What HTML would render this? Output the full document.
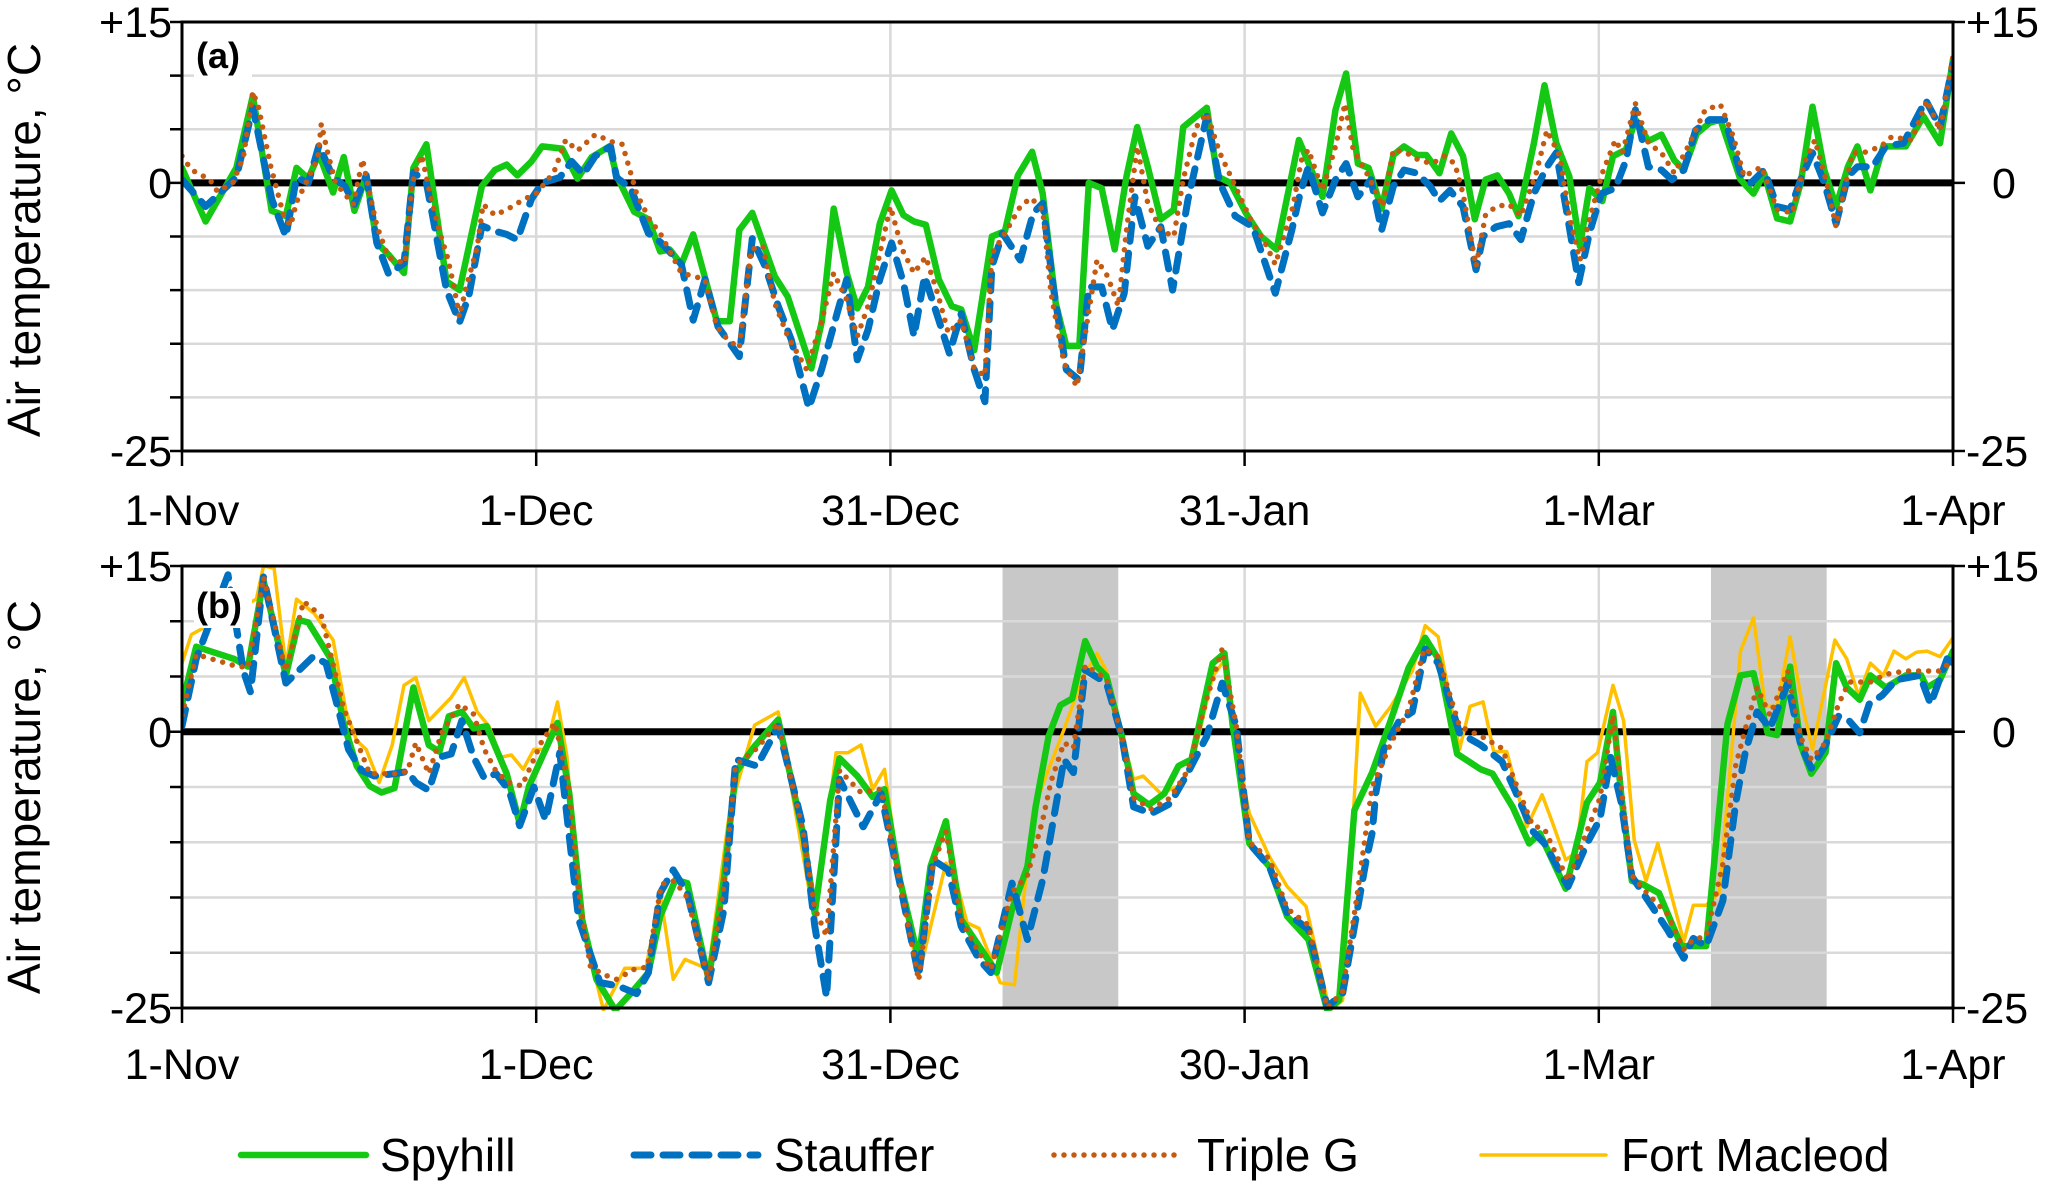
<!DOCTYPE html>
<html><head><meta charset="utf-8"><style>
html,body{margin:0;padding:0;background:#fff;}
svg{display:block;font-family:"Liberation Sans",Arial,sans-serif;}
</style></head><body>
<svg id="chart" width="2067" height="1184" viewBox="0 0 2067 1184" xmlns="http://www.w3.org/2000/svg">
<defs>
<clipPath id="clipTop"><rect x="182" y="20" width="1772" height="434"/></clipPath>
<clipPath id="clipBot"><rect x="182" y="564" width="1772" height="447"/></clipPath>
</defs>
<g id="top"></g>
<g id="bot"></g>
<g id="legend"></g>
</svg>
<script>
// ---- data ----
const xTickDays = [0,30,60,90,120,150];
const xTickLabelsTop = ["1-Nov","1-Dec","31-Dec","31-Jan","1-Mar","1-Apr"];
const xTickLabelsBot = ["1-Nov","1-Dec","31-Dec","30-Jan","1-Mar","1-Apr"];
const yTickValues = [15,10,5,0,-5,-10,-15,-20,-25];
const yLabelValues = [15,0,-25];
const yLabelTexts = ["+15","0","-25"];
const shadeStarts = [69.5,129.5];
const shadeEnds = [79.3,139.3];
const seriesNames = ["Spyhill","Stauffer","Triple G","Fort Macleod"];

const topSpyDays=[0,2,4.6,6,7.6,8.8,9.7,10.7,11.6,12.8,13.7,14.6,15.6,16.5,17.5,18.8,19.6,20.7,22.4,23.5,25.4,26.5,27.5,28.4,29.6,30.5,32.2,33.5,34.7,36.2,36.8,38.3,39.5,40.5,41.3,42.3,43.3,45.3,46.4,47.2,48.3,50.2,51.3,53.3,54.2,55.2,56.3,57.2,58.1,59.1,60.1,61.1,62,63,64.1,65.2,66,67.1,68.6,69.7,70.8,72,72.9,74,74.9,76,76.8,77.9,79,80,80.9,81.8,82.9,84,84.8,86.8,87.7,88.8,90.1,91.4,92.7,94.6,96.6,97.7,98.6,99.6,100.5,101.6,102.6,103.5,104.6,105.4,106.5,107.5,108.5,109.5,110.4,111.4,112.4,113.2,114.5,115.4,116.4,117.5,118.4,119.2,120.3,121.2,122.3,123.1,124.2,125.3,126.4,127.2,128.3,129.4,130.3,132,133.1,134,135.1,136.2,137.1,138.1,139.1,140.1,141.1,141.9,143,144.1,146,147.5,148.9,150];
const topSpyTemps=[1.4,-3.6,1.4,8.1,-2.6,-3.1,1.4,0.4,2.7,-0.9,2.4,-2.6,0.7,-5.6,-6.7,-8.4,1.4,3.6,-9.2,-10,-0.3,1.2,1.7,0.7,2,3.4,3.2,0.4,2.4,3.4,0.7,-2.7,-3.4,-6.4,-6.2,-7.6,-4.8,-12.9,-12.9,-4.4,-2.8,-8.7,-10.6,-17.3,-12.9,-2.4,-8.4,-11.7,-9.7,-3.8,-0.7,-3,-3.6,-3.9,-9,-11.5,-11.8,-15.6,-5,-4.5,0.7,2.9,-1,-11.2,-15.2,-15.2,0,-0.5,-6.2,0.6,5.2,1.5,-3.4,-2.5,5.2,7,0.6,0,-2.8,-5,-6.2,4,-1.3,6.8,10.2,1.8,1.4,-2.4,2.6,3.4,2.6,2.6,0.9,4.6,2.5,-3.4,0.3,0.7,-1,-3.1,3.7,9.1,3.7,0.6,-5.9,-0.5,-1.7,2.5,3.1,5.9,3.9,4.5,2.1,1.2,4.6,5.6,5.9,0.3,-1,0.9,-3.3,-3.6,0,7.1,1.2,-2.2,1.5,3.4,-0.7,3.4,3.4,6.2,3.7,11.5];

const topStaDays=[0,2,4.6,6,7.6,8.8,9.7,10.7,11.6,12.8,13.8,14.6,15.6,16.5,17.5,18.8,19.6,20.7,22.4,23.5,24.3,25.4,26.5,27.5,28.4,29.6,30.5,32,33,34,35,36.3,36.8,38,39.5,40.5,42.3,43.3,44.3,45.4,47.2,48.3,49.4,50.5,51.6,53.1,54.2,55.5,56.3,57.2,58.1,59.1,60.1,61.1,62,62.9,64.1,65,66,67.1,68,68.6,69.5,71,72.1,72.9,73.8,74.9,76,76.8,77.9,78.8,79.8,80.7,81.8,82.9,83.9,85.2,86.8,87.9,89.2,90.7,92.6,94,94.7,95.4,96.6,97.7,98.6,99.6,100.7,101.6,102.6,103.5,104.6,105.7,106.5,107.4,108.5,109.6,110.2,111.3,112.4,113.4,114.5,115.6,116.4,117.3,118.3,119.2,120.2,121.4,122.3,123.1,124.2,125.3,126.2,127.2,128.2,129.4,130.7,132,132.9,134,135.1,136.2,137.2,138.1,139.1,140.1,141.1,141.9,143.2,144.3,145.8,147.7,148.9,150];
const topStaTemps=[0.3,-2.2,0.5,7,-1.5,-5,0.5,0,3.5,0.5,-0.3,-2,0.7,-5.6,-8.5,-7.5,1,0,-10,-13,-10.5,-4,-4.5,-4.8,-5.3,-1.5,0,0.5,2,0.8,2.5,3.4,0.5,-0.5,-4.7,-5.5,-7.6,-12.8,-9,-13.4,-16.2,-5.2,-7.8,-11.5,-14.6,-21,-17.3,-12.1,-9,-16.5,-13.7,-9,-5.6,-9.3,-14.3,-8.7,-12.8,-15.9,-12.2,-17.4,-20.4,-7.8,-4.7,-7.2,-2.8,-1.9,-9.7,-17.4,-18.4,-9.7,-9.7,-13.7,-10.3,-1.3,-5.9,-4.1,-10,-1.6,6.2,0,-3.1,-4.1,-10.3,-4.4,-1,1.5,-2.8,0.3,1.8,-1.3,0.3,-4.4,-0.3,1.2,0.9,-0.3,-1.7,-0.7,-2.2,-8.1,-5,-4.1,-3.8,-5.3,-1,1.5,2.8,-2.8,-9.3,-4.7,-1,-0.5,2.1,6.8,1.5,1.2,0.3,1.2,4.9,5.9,5.9,0.9,0,1.2,-2.2,-2.5,0.6,2.8,0,-3.8,0.6,1.5,1.5,3.4,3.7,7.7,5.2,11.1];

const topTriDays=[0,0.5,1.2,2.3,3,4.3,5.2,6,6.5,7,7.5,8,8.6,9.2,9.7,10.5,11.5,11.8,12.3,13,14.5,15.3,16,16.5,17.5,18.9,19.5,20.3,21,21.8,22.5,23,23.5,24,25,25.5,26.5,27.5,29,30,31.5,32.5,33.5,35,36.5,37.3,38.5,39.6,40.5,42.3,44.3,45.3,46.2,47.2,48.2,49.2,50.2,51.3,52.9,54.2,55.2,56.3,57.2,58.1,59.1,60,61,62,63,64,64.9,66,67.1,68,68.6,69.7,71,71.9,72.9,73.6,74.7,75.8,76.6,77.5,78.4,79.3,80,80.9,81.8,82.9,84,84.8,85.9,86.8,87.9,89.2,90.5,91.6,92.6,94.1,94.8,95.4,96.6,97.7,98.5,99.2,100.5,101.7,102.6,103.7,104.8,105.9,106.9,107.8,108.5,109.6,110.4,111.3,112.4,113.4,114.7,115.6,116.7,117.5,118.4,119.2,120.3,121.4,122,123.1,124.2,125.3,126.4,127.7,129,130.3,131.4,132.3,133.8,135.1,136.4,137.5,138.3,139.3,140.1,141.5,142.4,143.9,144.8,146.5,147.8,148.9,150];
const topTriTemps=[2.5,1.7,0.9,0.4,-0.8,0,2.4,8.5,7,4.3,1.6,-0.5,-3,-4,-1.8,0,2.3,5.5,3,0,-2,2.2,-1.5,-4,-7,-7.5,0,2.6,-1,-4.5,-7,-9.5,-12.5,-10,-6,-2,-3,-2.5,-1.5,-1,1,4,3,4.5,3.8,3.6,-1,-3.4,-4.7,-8.4,-9,-13.4,-14.6,-15.4,-6.2,-5.9,-11.2,-14.3,-17.4,-12.8,-8.4,-10.9,-14.3,-11.5,-6.6,-2.2,-6.2,-8.4,-6.9,-10.3,-14,-12.8,-17.3,-18,-6.6,-4.7,-2.2,-1.4,-2.5,-10.3,-16.8,-19,-13.4,-7.2,-8.7,-11.5,-4.4,3.4,-1.9,-4.4,-5,0.3,5.2,6.5,2.8,-0.3,-3.4,-5.3,-7.6,-2.2,2.1,3.1,-0.7,3.4,7.4,3.1,0.6,-2.2,3.1,2.8,2.1,1.8,2.5,1.8,-1,-7.8,-3,-2.2,-2,-3.1,0.9,4.9,2.5,-3.1,-7.2,-3.4,0.9,4,2.8,7.4,3.7,2.8,0.9,3.7,6.8,7.3,4.3,0.6,1.5,-2.5,-2.8,2.1,4,0,-4.1,2.8,2.8,3.4,4.3,4,7.7,4.9,11.8];

const botSpyDays=[0,1.2,4.4,5.6,6.9,8.8,9.9,10.7,12.6,13.7,14.8,15.9,16.9,18,19.6,20.9,21.8,22.6,23.7,24.7,25.8,27.5,28.6,29.4,30.5,31.8,32.8,33.9,35.1,36.7,38,39.5,40.5,41.8,42.8,44.6,45.9,46.9,48.5,50.5,52.6,53.6,54.9,55.7,57.2,58.5,59.5,60.8,62.4,63.4,64.7,66,67.5,69,70.3,71.6,72.3,73.4,74.4,75.4,76.5,77.5,78.3,79.6,80.6,81.9,83.2,84.4,85.5,87.3,88.3,89,90.4,92.1,93.6,95.4,97,98,99.3,100.8,102.4,103.9,105.3,106.4,108,110,111,112.7,114.1,115,117.2,119,120.1,121.2,121.9,122.8,123.7,125.1,127,129.1,130.9,132,133.1,134.3,135.1,136.2,137.1,138,139.2,140.1,141,142.1,143,144.3,146,147.3,147.8,148.9,150];
const botSpyTemps=[2.5,7.7,6.6,5.9,13.7,5.1,10.1,9.9,6.6,0.7,-3.1,-4.9,-5.5,-5.1,4,-1.2,-1.8,1.4,1.8,0.3,0.5,-3.8,-8.3,-4.9,-2.3,0.8,-5.6,-17,-22.4,-25.2,-23.7,-21.8,-16.7,-13.4,-13.7,-22.4,-13.4,-3.7,-1.3,1.1,-9.2,-16.4,-6.2,-2.4,-4,-5.9,-5.2,-13.4,-20.6,-12.2,-8.1,-17,-19.4,-21.8,-16.1,-12.2,-6.8,-0.4,2.4,3,8.2,5.9,5,-0.4,-5.6,-6.6,-5.6,-3.1,-2.5,6.2,7.1,0.5,-10.1,-12.2,-16.7,-18.8,-25.2,-24.3,-7.1,-3.7,1.1,5.8,8.5,6.6,-2,-3.4,-3.8,-6.8,-10.1,-9.2,-14.2,-6.4,-4.6,1.8,-5.7,-13.5,-13.8,-14.6,-19.4,-19.4,0.7,5.1,5.3,-0.1,-0.3,5.9,-1.2,-3.8,-1.9,6.2,4,2.9,5.1,4,5.1,5.1,4,4.7,7.3];

const botStaDays=[0,1.2,3.9,5.2,5.8,6.9,8.8,11.1,12.2,13.3,14.1,15.2,16.3,18,19.1,19.8,20.9,21.8,22.8,23.7,24.7,25.6,26.6,27.7,28.6,29.8,30.8,32,33.6,35.4,36.9,38.5,39.5,40.5,41.6,42.8,44.6,45.9,46.9,48.7,50.5,52.6,53.6,54.6,55.7,57.7,59.2,60.8,62.4,63.6,64.9,66,67.5,68.5,70.3,71.6,72.9,73.6,74.7,75.5,76.5,78.3,79.6,80.6,82.1,83.7,85.2,86.8,88.1,89.3,90.4,92.1,93.6,95.4,97,98.3,99.5,100.3,100.8,101.1,101.8,103.1,104.2,105.3,106.4,108.2,110,111.8,112.9,114.4,115.4,117.4,119,120.1,121,121.9,122.8,124,125.8,127.2,128,129.1,130.5,131.6,132.4,133.4,134.5,136,137.1,138,139.2,140.3,141.2,142.1,142.9,144,145.2,147.2,148.1,149.5,150];
const botStaTemps=[0.5,6.6,14.2,5.5,3.6,14,4.4,6.8,6.2,1.8,-1.6,-3.5,-4,-3.8,-3.6,-4.6,-5.3,-2.3,-2,1,-2.3,-4.2,-3.8,-5.3,-8.5,-5,-8,-1.9,-17,-22.7,-23,-23.7,-21.8,-14.6,-12.5,-14.6,-22.7,-16.1,-2.5,-3.1,0.5,-8.6,-17.6,-24,-4.3,-8.6,-5.6,-13.7,-22.1,-11.6,-12.5,-17.6,-20.6,-21.8,-13.7,-18.8,-13.4,-9.2,-2.5,-3.7,5.6,4.4,-0.4,-6.8,-7.4,-6.5,-3.7,-0.4,4.4,0.5,-10.1,-12.2,-16.4,-17.9,-24.9,-23.7,-16.4,-11.6,-9.2,-5.6,-1.6,1,1.8,7.5,6.2,-0.1,-1.2,-2.7,-5.3,-9,-10.1,-14,-10.1,-7.9,-2.3,-6.4,-13.1,-15,-17.9,-20.5,-18.7,-19.4,-15.3,-6.4,-1.9,1.8,0.3,4.4,-1.2,-3.3,-1.2,1.4,1,-0.1,2.5,3.3,4.7,5.1,2.5,6.6,6.2];

const botTriDays=[0,1.2,4.4,5.6,6.9,8.8,10.3,11.8,13.7,15.9,18,19.1,19.8,20.9,22,23.5,24.7,25.6,26.6,27.7,28.8,30.5,31.6,32.7,33.7,34.6,35.8,36.8,38.3,39.4,40.6,41.7,42.8,44.6,45.9,46.9,48.7,50.5,52.6,53.6,54.6,55.7,57.5,59.2,60.8,62.4,63.6,64.7,66,67.5,68.5,70.3,71.6,72.9,73.6,74.7,75.5,76.5,78.3,79.6,80.6,82.1,83.7,85.2,86.8,88.1,89.3,90.4,92.1,93.6,95.4,97,98.3,99.5,100.8,102.4,103.9,105.2,106.4,108.2,110.2,111.8,112.9,114.4,115.4,117.4,119,120.1,121.2,121.9,122.8,124,125.8,127.2,128,129.1,130.5,131.6,132.4,133.4,134.5,136,137.1,138,139.2,140.3,141.2,142.1,143,144.3,146,147.3,148.9,150];
const botTriTemps=[1.5,7,6,5.8,14,5.5,11.8,10.5,2.1,-3.8,-3.8,-3.6,-1,-3.8,-0.1,2.5,1.6,-1.6,-3.6,-4.6,-4.9,-0.8,0.8,-4.6,-15.3,-21.3,-22,-22.4,-21.5,-21.3,-13.8,-13.5,-15,-22.5,-14,-3,-1.5,0.8,-9,-16,-18.5,-3.5,-5.5,-5.2,-13.5,-22.5,-12,-9,-17,-20,-21.5,-14.5,-13,-8,-4.5,-1,-1.5,6,4.8,-0.4,-6,-7,-6,-3.5,3,7.5,0.5,-10,-11.5,-16,-17.5,-25,-23.5,-15,-5,-1,2,7.5,6.8,0.5,-0.5,-1.5,-4.5,-8.5,-8.8,-13.5,-9,-6,1.5,-5,-13,-14.5,-16.5,-19.7,-18.8,-18.5,-12,-3,0.2,4,1.5,5.5,-0.5,-2.5,-1,2.5,4.5,4.5,4.5,5.2,5.5,5.5,5.5,6.5];

const botFmDays=[0,0.8,6.3,6.9,7.8,8.8,9.7,11.2,12.8,13.9,14.8,15.6,16.7,17.8,18.8,19.8,20.9,22.8,23.9,25,26,27,27.9,28.9,29.8,30.8,31.8,32.6,33.6,35.7,37.5,39.3,40.5,41.6,42.6,44.6,46.4,48.5,50.5,53.6,55.4,56.4,57.5,58.5,59.5,60.8,62.4,64.7,65.4,66.5,67.5,69.3,70.5,72.1,73.4,74.7,76.2,77.5,78.3,79.6,80.6,81.4,82.9,84.4,85.5,87.3,88.3,89,90.4,92.1,93.6,95.2,97.2,98.3,99.8,101.1,102.4,104.2,105.3,106.4,108.2,109.1,110.2,111.1,112.2,113.9,115.2,116.1,117.2,118.1,119,119.9,121.2,122.1,123,124,125,126.1,127.2,128,129.1,130.2,132,133.1,134.1,135.1,136.2,137.3,138.1,140,141,142,143,144.1,145,146,146.9,147.8,148.9,150];
const botFmTemps=[6.2,8.8,12,15,14.8,5.9,12,10.7,8.3,1.8,-0.8,-1.6,-4.6,-1.2,4.2,4.9,1,3.1,4.9,1.8,0.5,-2.3,-2.1,-3.4,-1.6,-1.6,2.7,-2.2,-16.1,-25.2,-21.4,-21.4,-14.6,-22.4,-20.6,-21.5,-7.1,0.6,1.8,-17.3,-1.9,-1.9,-1.2,-5.2,-3.4,-13.4,-22.1,-11.9,-12.8,-17.3,-17.8,-22.7,-22.9,-7.1,-3.4,0.2,4.7,7.1,5.5,-0.4,-4.3,-4,-5.6,-4.9,-3.1,5,6.5,0.2,-7.4,-11.3,-14,-15.8,-25.2,-24.3,3.5,0.5,2.3,5.5,9.6,8.6,-1.6,2.3,2.7,-1.8,-1.8,-8.6,-5.7,-8.3,-11.6,-10.9,-2.7,-1.9,4.2,1,-9.8,-13.5,-10.1,-14.6,-19,-15.7,-15.7,-14.6,7.3,10.3,2.3,2.3,8.6,2.1,-1.6,8.3,6.6,3.3,6.2,5.1,7.3,6.6,7.2,7.3,6.8,8.5];

// ---- layout ----
const NS="http://www.w3.org/2000/svg";
const X0=182, X1=1953, DMAX=150;
function xScale(d){return X0+(X1-X0)*d/DMAX;}
const panels={
  top:{yTop:22,yBot:451,clip:"clipTop",labels:xTickLabelsTop,lab:"(a)",labY:68,xLabY:525,titleY:240,shade:false},
  bot:{yTop:566,yBot:1008,clip:"clipBot",labels:xTickLabelsBot,lab:"(b)",labY:618,xLabY:1079,titleY:797,shade:true}
};
function yScaleFor(p){return v=>p.yTop+(15-v)*(p.yBot-p.yTop)/40;}
function mk(tag,attrs,parent){const e=document.createElementNS(NS,tag);for(const k in attrs)e.setAttribute(k,attrs[k]);parent.appendChild(e);return e;}
const styles={
  spy:{stroke:"#14c814",w:6.5,dash:null,cap:"round"},
  sta:{stroke:"#0070c0",w:7,dash:"17 12",cap:"round"},
  tri:{stroke:"#c55a11",w:5.5,dash:"0 10",cap:"round"},
  fm:{stroke:"#ffc000",w:3.5,dash:null,cap:"round"}
};
function drawSeries(g,p,days,temps,st,name){
  const ys=yScaleFor(p);const n=Math.min(days.length,temps.length);
  let d="";for(let i=0;i<n;i++){d+=(i?"L":"M")+xScale(days[i]).toFixed(1)+","+ys(temps[i]).toFixed(1);}
  const path=mk("path",{d:d,fill:"none",stroke:st.stroke,"stroke-width":st.w,"stroke-linejoin":"round","stroke-linecap":st.cap,"clip-path":"url(#"+p.clip+")"},g);
  if(st.dash)path.setAttribute("stroke-dasharray",st.dash);
  
  
}
function drawPanel(key,series){
  const p=panels[key];const g=document.getElementById(key);const ys=yScaleFor(p);
  if(p.shade){for(let i=0;i<shadeStarts.length;i++){
    const r=mk("rect",{x:xScale(shadeStarts[i]),y:p.yTop,width:xScale(shadeEnds[i])-xScale(shadeStarts[i]),height:p.yBot-p.yTop,fill:"#c8c8c8"},g);
    
    
  }}
  yTickValues.forEach(v=>{
    const l=mk("line",{x1:X0,x2:X1,y1:ys(v),y2:ys(v),stroke:"#d9d9d9","stroke-width":2.5},g);
    
    
    const t=mk("line",{x1:X0-12,x2:X0,y1:ys(v),y2:ys(v),stroke:"#000","stroke-width":2.5},g);
    
    
  });
  xTickDays.forEach((d,i)=>{
    if(i>0&&i<xTickDays.length-1){
      const l=mk("line",{x1:xScale(d),x2:xScale(d),y1:p.yTop,y2:p.yBot,stroke:"#d9d9d9","stroke-width":2.5},g);
      
      
    }
    const t=mk("line",{x1:xScale(d),x2:xScale(d),y1:p.yBot,y2:p.yBot+15,stroke:"#000","stroke-width":2.5},g);
    
    
    const tx=mk("text",{x:xScale(d),y:p.xLabY,"font-size":43,"text-anchor":"middle",fill:"#000"},g);
    tx.textContent=p.labels[i];
    
    
  });
  const z=mk("line",{x1:X0,x2:X1,y1:ys(0),y2:ys(0),stroke:"#000","stroke-width":7},g);
  
  
  series.forEach(s=>drawSeries(g,p,s[0],s[1],s[2],s[3]));
  const fr=mk("rect",{x:X0,y:p.yTop,width:X1-X0,height:p.yBot-p.yTop,fill:"none",stroke:"#000","stroke-width":3},g);
  
  
  yLabelValues.forEach((v,i)=>{
    const t=mk("text",{x:172,y:ys(v)+15,"font-size":43,"text-anchor":"end",fill:"#000"},g);
    t.textContent=yLabelTexts[i];
    
    
    const rt=mk("line",{x1:X1,x2:X1+12,y1:ys(v),y2:ys(v),stroke:"#000","stroke-width":2.5},g);
    
    
    const t2=mk("text",{x:v===0?1992:1966,y:ys(v)+15,"font-size":43,"text-anchor":"start",fill:"#000"},g);
    t2.textContent=yLabelTexts[i];
    
    
  });
  const bg=mk("rect",{x:194,y:p.labY-30,width:58,height:40,fill:"#fff"},g);
  
  
  const lb=mk("text",{x:196,y:p.labY,"font-size":36,"font-weight":"bold",fill:"#000"},g);
  lb.textContent=p.lab;
  
  
  const tt=mk("text",{x:0,y:0,"font-size":46,"text-anchor":"middle",fill:"#000",transform:"translate(40,"+p.titleY+") rotate(-90)"},g);
  tt.textContent="Air temperature, °C";
  
  
}
drawPanel("top",[[topSpyDays,topSpyTemps,styles.spy,"series-spyhill"],[topStaDays,topStaTemps,styles.sta,"series-stauffer"],[topTriDays,topTriTemps,styles.tri,"series-triple-g"]]);
drawPanel("bot",[[botFmDays,botFmTemps,styles.fm,"series-fort-macleod"],[botSpyDays,botSpyTemps,styles.spy,"series-spyhill"],[botStaDays,botStaTemps,styles.sta,"series-stauffer"],[botTriDays,botTriTemps,styles.tri,"series-triple-g"]]);

// legend
const lg=document.getElementById("legend");
const legLineX=[241,634,1054,1481], legLineEnd=[366,758,1184,1606], legTextX=[380,774,1197,1621];
const legStyles=[styles.spy,styles.sta,styles.tri,styles.fm];
seriesNames.forEach((nm,i)=>{
  const st=legStyles[i];
  const l=mk("line",{x1:legLineX[i],x2:legLineEnd[i],y1:1155,y2:1155,stroke:st.stroke,"stroke-width":st.w,"stroke-linecap":st.cap},lg);
  if(st.dash)l.setAttribute("stroke-dasharray",st.dash);
  
  
  const t=mk("text",{x:legTextX[i],y:1171,"font-size":46,fill:"#000"},lg);
  t.textContent=nm;
  
  
});
</script>
</body></html>
